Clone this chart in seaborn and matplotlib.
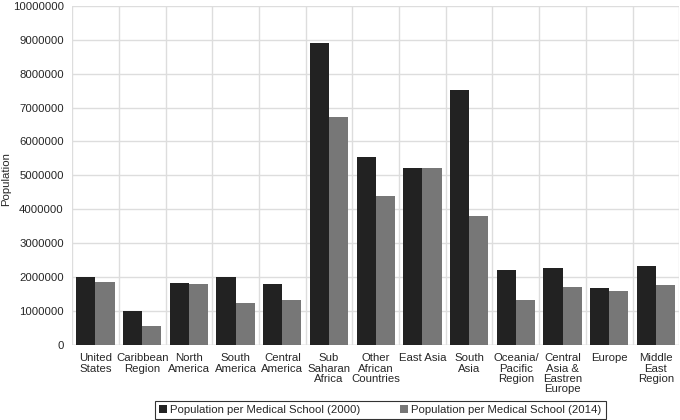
import pandas as pd
import matplotlib.pyplot as plt
import seaborn as sns
import numpy as np

# Data
regions = ['United\nStates', 'Caribbean\nRegion', 'North\nAmerica', 'South\nAmerica',
           'Central\nAmerica', 'Sub\nSaharan\nAfrica', 'Other\nAfrican\nCountries',
           'East Asia', 'South\nAsia', 'Oceania/\nPacific\nRegion',
           'Central\nAsia &\nEastren\nEurope', 'Europe', 'Middle\nEast\nRegion']
pop_2000 = [2000000, 1000000, 1820000, 2000000, 1800000, 8900000, 5550000,
            5220000, 7520000, 2200000, 2280000, 1670000, 2330000]
pop_2014 = [1860000, 570000, 1800000, 1220000, 1330000, 6730000, 4380000,
            5220000, 3800000, 1310000, 1720000, 1590000, 1760000]
series = ['Population per Medical School (2000)', 'Population per Medical School (2014)']

df = pd.DataFrame({
    'Region': regions * 2,
    'Population': pop_2000 + pop_2014,
    'Series': [series[0]] * len(regions) + [series[1]] * len(regions),
})

sns.set_theme(style="white")
plt.rcParams['font.family'] = ['Liberation Sans', 'DejaVu Sans']

fig = plt.figure(figsize=(6.8, 4.2), dpi=100)
ax = fig.add_axes([0.106, 0.179, 0.893, 0.807])

sns.barplot(data=df, x='Region', y='Population', hue='Series',
            palette=['#222222', '#777777'], width=0.82, gap=0,
            saturation=1, linewidth=0, ax=ax)

ax.set_ylim(0, 10000000)
ax.set_xlim(-0.5, len(regions) - 0.5)
ax.set_yticks(np.arange(0, 10000001, 1000000))
ax.set_yticklabels([f'{int(v)}' for v in np.arange(0, 10000001, 1000000)], fontsize=8.2)
ax.set_xticks(range(len(regions)))
ax.set_xticklabels(regions, fontsize=8.2, linespacing=1.05)
ax.set_xticks(np.arange(-0.5, len(regions), 1), minor=True)
ax.tick_params(axis='both', which='both', length=0, pad=6)
ax.set_xlabel('')
ax.set_ylabel('Population', fontsize=8.2)
ax.yaxis.set_label_coords(-0.1, 0.49)

ax.grid(axis='y', which='major', color='#dddddd', linewidth=1)
ax.grid(axis='x', which='minor', color='#dddddd', linewidth=1)
ax.grid(axis='x', which='major', visible=False)
ax.set_axisbelow(True)
for s in ax.spines.values():
    s.set_visible(False)
ax.axhline(0, color='#cccccc', linewidth=1, zorder=0.5)

handles, labels = ax.get_legend_handles_labels()
leg = ax.legend(handles, labels, loc='lower center', ncol=2, fontsize=8.2,
                frameon=True, fancybox=False, edgecolor='black',
                handlelength=0.7, handleheight=0.7, handletextpad=0.3,
                columnspacing=3.5, borderpad=0.35)
leg.set_bbox_to_anchor((0.559, -0.012), transform=fig.transFigure)
leg.get_frame().set_linewidth(0.8)

fig.savefig('out.png', dpi=100)
